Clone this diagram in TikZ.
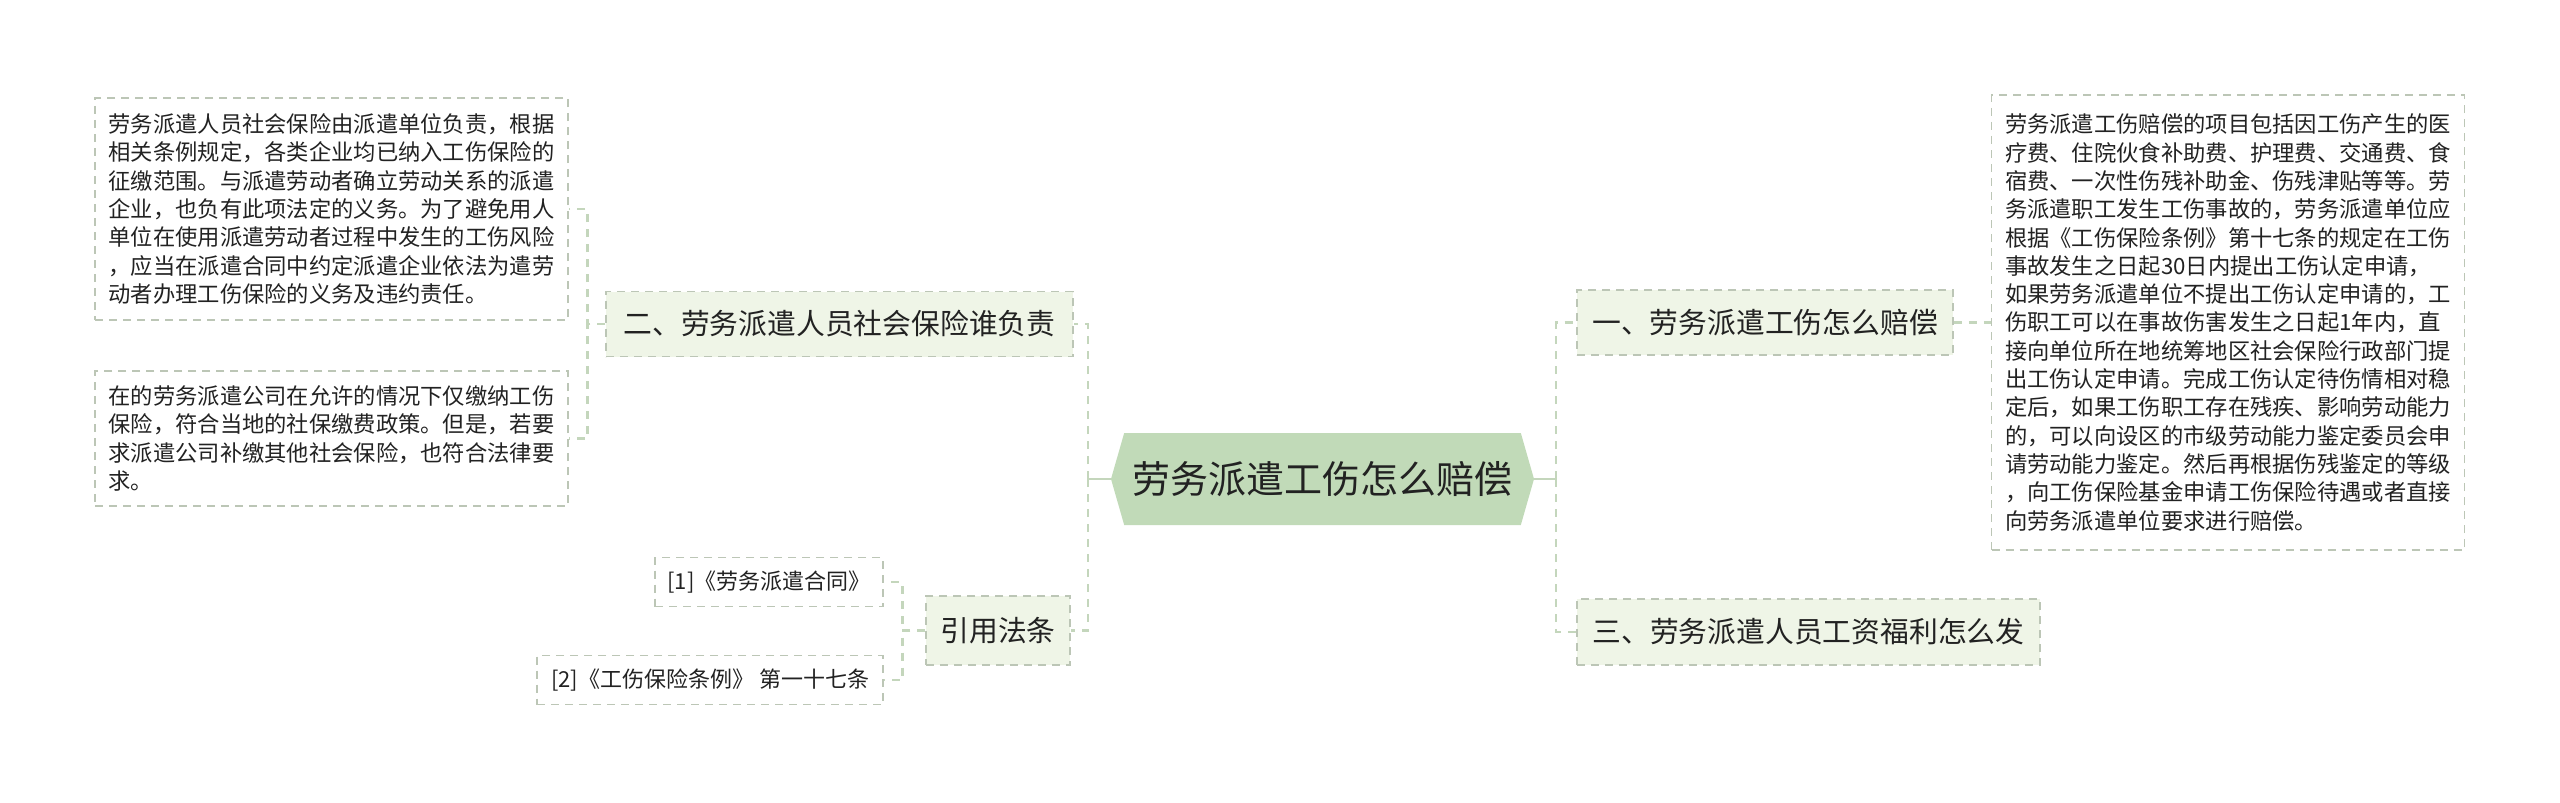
\documentclass[tikz,border=0pt]{standalone}
\usepackage{fontspec}
\setmainfont{Noto Sans CJK SC}
\usetikzlibrary{positioning, shapes.symbols}
\definecolor{mm_fill}{RGB}{239,245,231}
\definecolor{mm_edge}{RGB}{188,198,182}
\definecolor{mm_line}{RGB}{196,214,188}
\definecolor{mm_root}{RGB}{193,218,184}
\definecolor{mm_text}{RGB}{34,34,34}

\begin{document}
\begin{tikzpicture}[x=0.5pt, y=-0.5pt, text=mm_text,
      root/.style ={shape=signal, signal to=west and east, signal pointer angle=148, fill=mm_root,
                    minimum width=211.5pt, minimum height=46pt, inner sep=0pt, font=\fontsize{19pt}{22pt}\selectfont},
      topic/.style={draw=mm_edge, dash pattern=on 4pt off 3pt, fill=mm_fill, line width=0.8pt,
                    minimum height=32.5pt, inner sep=0pt, font=\fontsize{14.4pt}{17pt}\selectfont},
      leaf/.style ={draw=mm_edge, dash pattern=on 4pt off 3pt, line width=0.8pt, align=left, inner sep=0pt,
                    minimum width=236.5pt, font=\fontsize{11.15pt}{14.15pt}\selectfont},
      ref/.style  ={draw=mm_edge, dash pattern=on 4pt off 3pt, line width=0.8pt, minimum height=24.5pt,
                    inner sep=0pt, font=\fontsize{11pt}{13pt}\selectfont},
      link/.style ={draw=mm_line, line width=1.4pt, dash pattern=on 4pt off 3.5pt}]
    \fill[white] (0,0) rectangle (2560,803);
    \useasboundingbox (0,0) rectangle (2560,803);
    % --- CENTRE: the main question ---
    \node[root] (root) at (1322.5,479) {劳务派遣工伤怎么赔偿};
    % --- LEFT: who pays the social insurance, and the cited rules ---
    \node[topic, minimum width=233.5pt] (er) at (839.5,324) {二、劳务派遣人员社会保险谁负责};
    \node[leaf, minimum height=111pt] (leafA) at (331.5,209)
      {劳务派遣人员社会保险由派遣单位负责，根据\\相关条例规定，各类企业均已纳入工伤保险的\\征缴范围。与派遣劳动者确立劳动关系的派遣\\企业，也负有此项法定的义务。为了避免用人\\单位在使用派遣劳动者过程中发生的工伤风险\\，应当在派遣合同中约定派遣企业依法为遣劳\\动者办理工伤保险的义务及违约责任。};
    \node[leaf, minimum height=67.5pt] (leafB) at (331.5,438.5)
      {在的劳务派遣公司在允许的情况下仅缴纳工伤\\保险，符合当地的社保缴费政策。但是，若要\\求派遣公司补缴其他社会保险，也符合法律要\\求。};
    \node[topic, minimum width=72pt, minimum height=34.5pt] (cite) at (998,630.5) {引用法条};
    \node[ref, minimum width=114pt] (ref1) at (769,582) {[1]《劳务派遣合同》};
    \node[ref, minimum width=173pt] (ref2) at (710,680) {[2]《工伤保险条例》 第一十七条};
    % --- RIGHT: how the injury is compensated, and wages ---
    \node[topic, minimum width=188pt] (yi) at (1765,322.5) {一、劳务派遣工伤怎么赔偿};
    \node[leaf, minimum height=227.5pt] (leafR) at (2228,322.5)
      {劳务派遣工伤赔偿的项目包括因工伤产生的医\\疗费、住院伙食补助费、护理费、交通费、食\\宿费、一次性伤残补助金、伤残津贴等等。劳\\务派遣职工发生工伤事故的，劳务派遣单位应\\根据《工伤保险条例》第十七条的规定在工伤\\事故发生之日起30日内提出工伤认定申请，\\如果劳务派遣单位不提出工伤认定申请的，工\\伤职工可以在事故伤害发生之日起1年内，直\\接向单位所在地统筹地区社会保险行政部门提\\出工伤认定申请。完成工伤认定待伤情相对稳\\定后，如果工伤职工存在残疾、影响劳动能力\\的，可以向设区的市级劳动能力鉴定委员会申\\请劳动能力鉴定。然后再根据伤残鉴定的等级\\，向工伤保险基金申请工伤保险待遇或者直接\\向劳务派遣单位要求进行赔偿。};
    \node[topic, minimum width=231.5pt, minimum height=33pt] (san) at (1808.5,632) {三、劳务派遣人员工资福利怎么发};
    % --- connectors ---
    \coordinate (spL) at (1088,479);
    \coordinate (spR) at (1556,479);
    \draw[mm_line, line width=1.4pt] (root.west) -- (spL);
    \draw[mm_line, line width=1.4pt] (root.east) -- (spR);
    \draw[link] (spL) |- (er.east);
    \draw[link] (spL) |- (cite.east);
    \draw[link] (spR) |- (yi.west);
    \draw[link] (spR) |- (san.west);
    \draw[link] (er.west) -- ++(-18,0) |- (leafA.east);
    \draw[link] (er.west) -- ++(-18,0) |- (leafB.east);
    \draw[link] (cite.west) -- ++(-23,0) |- (ref1.east);
    \draw[link] (cite.west) -- ++(-23,0) |- (ref2.east);
    \draw[link] (yi.east) -- (leafR.west);
  \end{tikzpicture}
\end{document}
